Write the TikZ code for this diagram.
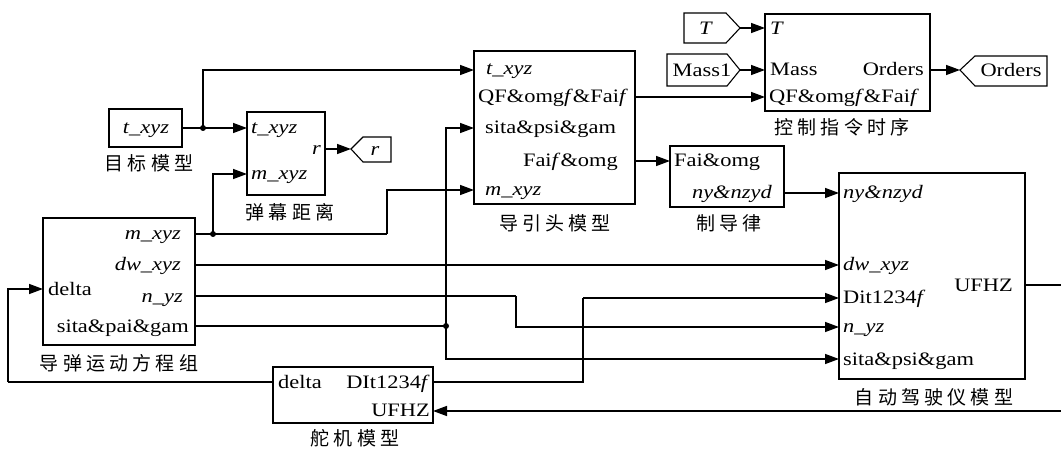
\documentclass[tikz,border=0pt]{standalone}
\usepackage{fontspec}
\setmainfont{Liberation Serif}[FakeStretch=1.18]
\newfontfamily\cjk{Noto Sans CJK SC}[LetterSpace=22]
\usetikzlibrary{arrows.meta}
\tikzset{
  blk/.style={draw, line width=1.1pt, inner sep=0pt, fill=white},
  ln/.style={line width=1.5pt},
  arr/.style={ln, -{Triangle[length=14pt,width=10pt]}},
  pl/.style={font={\fontsize{19}{22}\selectfont}, inner sep=0pt},
  cl/.style={font={\cjk\fontsize{19}{22}\selectfont}, inner sep=0pt},
  jdot/.style={circle, fill, inner sep=0pt, minimum size=6pt},
  tagshape/.style={draw, line width=1.1pt}
}
\begin{document}
\begin{tikzpicture}[x=1pt,y=-1pt]
\useasboundingbox (0,0) rectangle (1061,449);

% ---------- blocks ----------
\node[blk, minimum width=73pt, minimum height=38pt] (tgt) at (145.5,128) {};
\node[blk, minimum width=78pt, minimum height=83pt] (spm) at (286,153.5) {};
\node[blk, minimum width=152pt, minimum height=127pt] (msl) at (119,281.5) {};
\node[blk, minimum width=161pt, minimum height=153pt] (dyt) at (554.5,127.5) {};
\node[blk, minimum width=114pt, minimum height=61pt] (zdl) at (727,176.5) {};
\node[blk, minimum width=165pt, minimum height=97pt] (kz) at (847.5,62.5) {};
\node[blk, minimum width=186pt, minimum height=206pt] (ap) at (932,276) {};
\node[blk, minimum width=160pt, minimum height=56pt] (dj) at (353,395) {};

% ---------- tags ----------
\draw[tagshape] (684,13) -- (726,13) -- (740,28) -- (726,43) -- (684,43) -- cycle;
\draw[tagshape] (667,54) -- (727,54) -- (740,70) -- (727,86) -- (667,86) -- cycle;
\draw[tagshape] (960,70) -- (975,56) -- (1047,56) -- (1047,86) -- (975,86) -- cycle;
\draw[tagshape] (351,149) -- (363,137) -- (391,137) -- (391,162) -- (363,162) -- cycle;
\node[pl, anchor=base] (tagT) at (706,35) {\textit{T}};
\node[pl, anchor=base] (tagM) at (702,77) {Mass1};
\node[pl, anchor=base] (tagO) at (1011,77) {Orders};
\node[pl, anchor=base] (tagR) at (375,156) {\textit{r}};

% ---------- port coordinates ----------
\coordinate (tT) at (740,28);
\coordinate (tM) at (740,70);
\coordinate (tO) at (960,70);
\coordinate (tR) at (351,149);
\coordinate (spm-t) at (247,128);
\coordinate (spm-m) at (247,174);
\coordinate (spm-r) at (325,149);
\coordinate (msl-m) at (195,234);
\coordinate (msl-w) at (195,265);
\coordinate (msl-n) at (195,296);
\coordinate (msl-s) at (195,326);
\coordinate (msl-d) at (43,289);
\coordinate (dyt-t) at (474,70);
\coordinate (dyt-q) at (635,97);
\coordinate (dyt-s) at (474,128);
\coordinate (dyt-f) at (635,161);
\coordinate (dyt-m) at (474,190);
\coordinate (zdl-f) at (670,161);
\coordinate (zdl-n) at (784,193);
\coordinate (kz-t) at (765,28);
\coordinate (kz-m) at (765,70);
\coordinate (kz-q) at (765,97);
\coordinate (kz-o) at (930,70);
\coordinate (ap-ny) at (839,193);
\coordinate (ap-w) at (839,265);
\coordinate (ap-d) at (839,298);
\coordinate (ap-n) at (839,327);
\coordinate (ap-s) at (839,359);
\coordinate (ap-u) at (1025,285);
\coordinate (dj-l) at (273,382);
\coordinate (dj-d) at (433,382);
\coordinate (dj-u) at (433,411);
% bends and junctions
\coordinate (j1) at (203,128);
\coordinate (j2) at (213,234);
\coordinate (j3) at (446,326);
\coordinate (b1) at (387,234);
\coordinate (b2) at (516,296);
\coordinate (b3) at (583,298);
\coordinate (b4) at (8,382);
\coordinate (e1) at (1068,285);
\coordinate (e2) at (1068,411);

% ---------- port labels ----------
\node[pl, anchor=base] (l-tgt) at (146,134) {\textit{t\_xyz}};
\node[pl, anchor=base west] (l-spm-t) at (251,134) {\textit{t\_xyz}};
\node[pl, anchor=base west] (l-spm-m) at (251,180) {\textit{m\_xyz}};
\node[pl, anchor=base east] (l-spm-r) at (321,155) {\textit{r}};

\node[pl, anchor=base east] (l-msl-m) at (181,240) {\textit{m\_xyz}};
\node[pl, anchor=base east] (l-msl-w) at (181,271) {\textit{dw\_xyz}};
\node[pl, anchor=base east] (l-msl-n) at (183,302) {\textit{n\_yz}};
\node[pl, anchor=base east] (l-msl-s) at (189,332) {sita\&pai\&gam};
\node[pl, anchor=base west] (l-msl-d) at (48,295) {delta};

\node[pl, anchor=base west] (l-dyt-t) at (486,75) {\textit{t\_xyz}};
\node[pl, anchor=base west] (l-dyt-q) at (478,103) {QF\&omg\textit{f}\&Fai\textit{f}};
\node[pl, anchor=base west] (l-dyt-s) at (485,134) {sita\&psi\&gam};
\node[pl, anchor=base east] (l-dyt-f) at (618,167) {Fai\textit{f}\&omg};
\node[pl, anchor=base west] (l-dyt-m) at (485,196) {\textit{m\_xyz}};

\node[pl, anchor=base west] (l-zdl-f) at (674,167) {Fai\&omg};
\node[pl, anchor=base east] (l-zdl-n) at (772,199) {\textit{ny\&nzyd}};

\node[pl, anchor=base west] (l-kz-t) at (770,35) {\textit{T}};
\node[pl, anchor=base west] (l-kz-m) at (770,76) {Mass};
\node[pl, anchor=base west] (l-kz-q) at (769,103) {QF\&omg\textit{f}\&Fai\textit{f}};
\node[pl, anchor=base east] (l-kz-o) at (924,76) {Orders};

\node[pl, anchor=base west] (l-ap-ny) at (843,199) {\textit{ny\&nzyd}};
\node[pl, anchor=base west] (l-ap-w) at (843,271) {\textit{dw\_xyz}};
\node[pl, anchor=base west] (l-ap-d) at (843,304) {Dit1234\textit{f}};
\node[pl, anchor=base west] (l-ap-n) at (843,333) {\textit{n\_yz}};
\node[pl, anchor=base west] (l-ap-s) at (843,365) {sita\&psi\&gam};
\node[pl, anchor=base east] (l-ap-u) at (1013,292) {UFHZ};

\node[pl, anchor=base west] (l-dj-l) at (278,388) {delta};
\node[pl, anchor=base east] (l-dj-d) at (430,388) {DIt1234\textit{f}};
\node[pl, anchor=base east] (l-dj-u) at (430,416) {UFHZ};

% ---------- block captions ----------
\node[cl] (c-tgt) at (149,163) {目标模型};
\node[cl] (c-spm) at (290,212) {弹幕距离};
\node[cl] (c-msl) at (119,363) {导弹运动方程组};
\node[cl] (c-dyt) at (555,223) {导引头模型};
\node[cl] (c-zdl) at (729,223) {制导律};
\node[cl] (c-kz) at (842,127) {控制指令时序};
\node[cl] (c-ap) at (934,397) {自动驾驶仪模型};
\node[cl] (c-dj) at (355,438) {舵机模型};

% ---------- connectors ----------
\draw[arr] (tgt.east) -- (spm-t);
\draw[arr] (j1) |- (dyt-t);
\draw[arr] (spm-r) -- (tR);

\draw[ln] (msl-m) -- (b1);
\draw[arr] (b1) |- (dyt-m);
\draw[arr] (j2) |- (spm-m);
\draw[arr] (msl-w) -- (ap-w);
\draw[ln] (msl-n) -- (b2);
\draw[arr] (b2) |- (ap-n);
\draw[ln] (msl-s) -- (j3);
\draw[arr] (j3) |- (dyt-s);
\draw[arr] (j3) |- (ap-s);

\draw[arr] (dyt-q) -- (kz-q);
\draw[arr] (dyt-f) -- (zdl-f);
\draw[arr] (zdl-n) -- (ap-ny);

\draw[arr] (tT) -- (kz-t);
\draw[arr] (tM) -- (kz-m);
\draw[arr] (kz-o) -- (tO);

\draw[arr] (ap-u) -- (e1) -- (e2) -- (dj-u);
\draw[ln] (dj-d) -| (b3);
\draw[arr] (b3) -- (ap-d);
\draw[ln] (dj-l) -- (b4);
\draw[arr] (b4) |- (msl-d);

% junction dots
\node[jdot] (d1) at (j1) {};
\node[jdot] (d2) at (j2) {};
\node[jdot] (d3) at (j3) {};
\end{tikzpicture}
\end{document}
